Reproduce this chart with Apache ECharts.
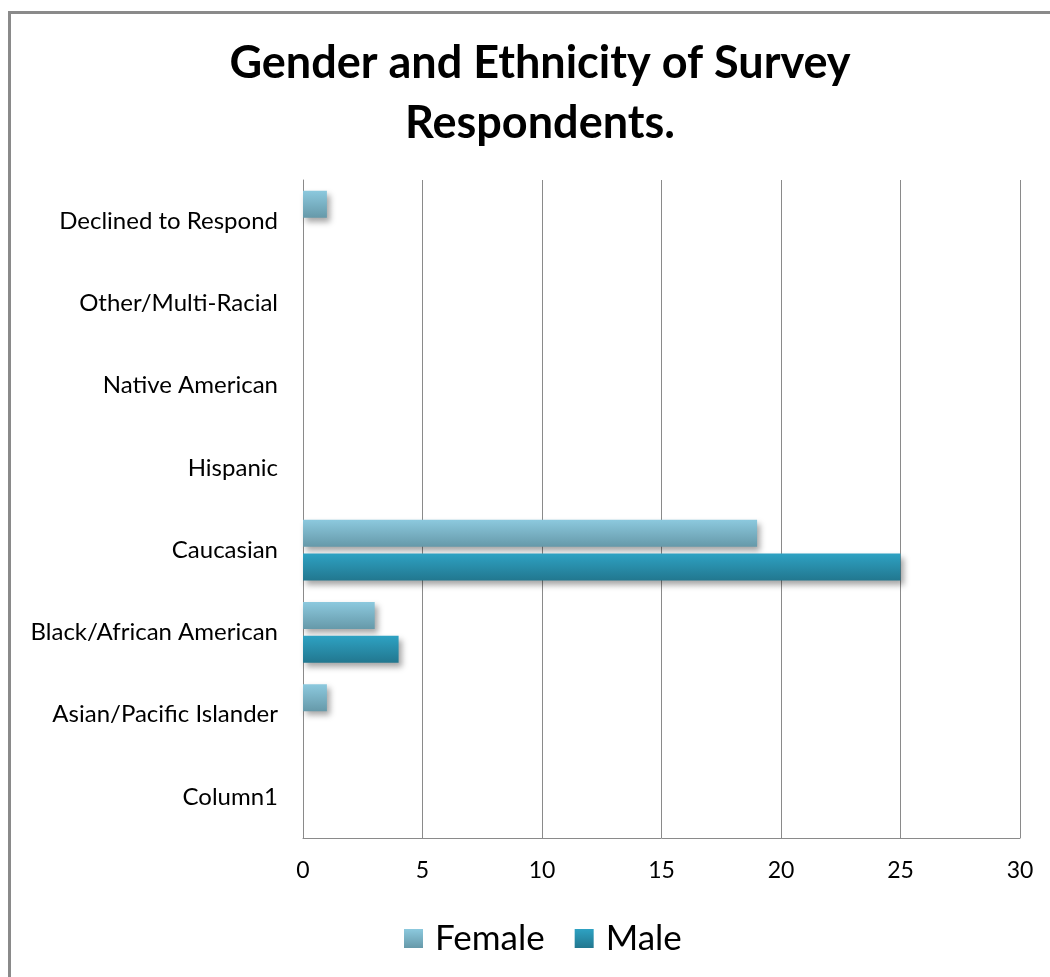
<!DOCTYPE html>
<html>
<head>
<meta charset="utf-8">
<script src="https://cdn.jsdelivr.net/npm/echarts@6/dist/echarts.min.js"></script>
<style>
  html, body { margin: 0; padding: 0; background: #fff; }
  #chart { width: 1050px; height: 977px; }
</style>
</head>
<body>
<div id="chart"></div>
<script>
// Ethnicity categories, listed bottom to top along the vertical axis
const categories = [
  'Column1',
  'Asian/Pacific Islander',
  'Black/African American',
  'Caucasian',
  'Hispanic',
  'Native American',
  'Other/Multi-Racial',
  'Declined to Respond'
];
const femaleCounts = [0, 1, 3, 19, 0, 0, 0, 1];
const maleCounts   = [0, 0, 4, 25, 0, 0, 0, 0];
const xTicks = { min: 0, max: 30, step: 5 };

const font = 'Lato, "Open Sans", sans-serif';

function grad(top, bottom) {
  return new echarts.graphic.LinearGradient(0, 0, 0, 1, [
    { offset: 0, color: top },
    { offset: 1, color: bottom }
  ]);
}
const femaleFill = grad('#8cc9de', '#6699a9');
const maleFill = grad('#2ea2c3', '#22778f');

const barShadow = {
  shadowColor: 'rgba(0,0,0,0.35)',
  shadowBlur: 6,
  shadowOffsetX: 3,
  shadowOffsetY: 4
};

const chart = echarts.init(document.getElementById('chart'), null, { renderer: 'canvas' });
chart.setOption({
  animation: false,
  backgroundColor: '#fff',
  graphic: [{
    type: 'rect',
    left: 7, top: 10,
    shape: { width: 1200, height: 1200 },
    style: { fill: 'none', stroke: '#8a8a8a', lineWidth: 3 },
    silent: true
  }],
  title: {
    text: 'Gender and Ethnicity of Survey\nRespondents.',
    left: 535, top: 28, textAlign: 'center',
    textStyle: { fontFamily: font, fontWeight: 'bold', fontSize: 45, lineHeight: 60, color: '#000' }
  },
  legend: {
    data: ['Female', 'Male'],
    left: 399, top: 916,
    itemWidth: 19, itemHeight: 19, itemGap: 30,
    icon: 'rect',
    textStyle: { fontFamily: font, fontSize: 35, color: '#000', padding: [0, 0, 0, 7] }
  },
  grid: { left: 303, right: 30, top: 180, bottom: 139, containLabel: false },
  xAxis: {
    type: 'value',
    min: xTicks.min, max: xTicks.max, interval: xTicks.step,
    axisLine: { show: true, lineStyle: { color: '#8a8a8a', width: 1 } },
    axisTick: { show: false },
    splitLine: { show: true, lineStyle: { color: '#8a8a8a', width: 1 } },
    axisLabel: { fontFamily: font, fontSize: 23, color: '#000', margin: 21 }
  },
  yAxis: {
    type: 'category',
    data: categories,
    axisLine: { show: true, lineStyle: { color: '#8a8a8a', width: 1 } },
    axisTick: { show: false },
    axisLabel: { fontFamily: font, fontSize: 24, color: '#000', margin: 25 }
  },
  series: [
    {
      name: 'Female', type: 'bar', data: femaleCounts,
      barWidth: 27, barGap: '25%', barCategoryGap: '27%',
      itemStyle: Object.assign({ color: femaleFill }, barShadow)
    },
    {
      name: 'Male', type: 'bar', data: maleCounts,
      barWidth: 27, barGap: '25%', barCategoryGap: '27%',
      itemStyle: Object.assign({ color: maleFill }, barShadow)
    }
  ]
});
</script>
</body>
</html>
